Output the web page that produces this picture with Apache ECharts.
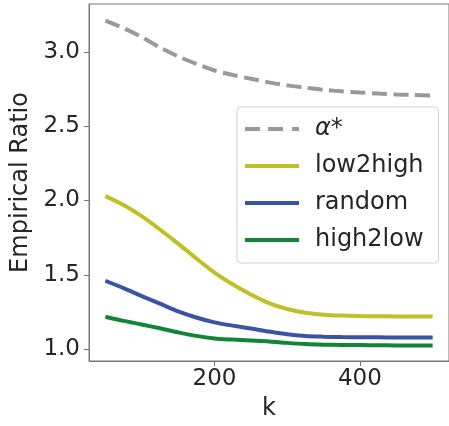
<!DOCTYPE html>
<html>
<head>
<meta charset="utf-8">
<script src="https://cdn.jsdelivr.net/npm/echarts@6/dist/echarts.min.js"></script>
<style>html,body{margin:0;padding:0;background:#fff;}#c{width:449px;height:426px;}</style>
</head>
<body>
<div id="c"></div>
<script>
const kValues = [50,75,100,125,150,175,200,225,250,275,300,325,350,375,400,425,450,475,500];
const alphaStar = [3.21,3.16,3.10,3.03,2.97,2.92,2.875,2.845,2.82,2.795,2.775,2.76,2.745,2.735,2.727,2.72,2.714,2.71,2.707];
const low2high = [2.03,1.97,1.895,1.805,1.71,1.61,1.515,1.436,1.368,1.31,1.27,1.245,1.232,1.226,1.223,1.221,1.22,1.22,1.219];
const random = [1.46,1.41,1.357,1.306,1.254,1.213,1.18,1.158,1.139,1.118,1.10,1.089,1.084,1.081,1.08,1.079,1.078,1.078,1.078];
const high2low = [1.218,1.19,1.166,1.14,1.113,1.089,1.072,1.064,1.058,1.052,1.042,1.034,1.03,1.028,1.027,1.026,1.025,1.025,1.025];
const yTicks = [1.0,1.5,2.0,2.5,3.0];
const xTicks = [200,400];
const seriesNames = ['α*','low2high','random','high2low'];

const font = 'DejaVu Sans';
const pair = arr => kValues.map((k,i)=>[k,arr[i]]);
const chart = echarts.init(document.getElementById('c'), null, {renderer:'canvas'});
function mk(name, arr, color, dashed){
  return {
    name, type:'line', data:pair(arr), symbol:'none', smooth:0.3,
    lineStyle:{color, width:4, type: dashed ? [15,6.5] : 'solid', cap:'butt'},
    itemStyle:{color}
  };
}
const solidIcon = 'path://M0,0h54v4h-54z';
const dashIcon = 'path://M0,0h15v4h-15z M23,0h15v4h-15z M47,0h7v4h-7z';
chart.setOption({
  animation:false,
  grid:{left:89, top:4, width:364, height:359, show:true, borderColor:'#777', borderWidth:1, backgroundColor:'transparent'},
  xAxis:{
    type:'value', min:27.5, max:522.5,
    name:'k', nameLocation:'middle', nameGap:36,
    nameTextStyle:{fontFamily:font, fontSize:24, color:'#262626'},
    axisLine:{show:true, lineStyle:{color:'#777', width:1}},
    axisTick:{show:true, length:5, inside:false, customValues:xTicks, lineStyle:{color:'#777'}},
    axisLabel:{customValues:xTicks, margin:7, fontFamily:font, fontSize:23, color:'#262626'},
    splitLine:{show:false}
  },
  yAxis:{
    type:'value', min:0.92, max:3.3226,
    name:'Empirical Ratio', nameLocation:'middle', nameGap:51,
    nameTextStyle:{fontFamily:font, fontSize:24, color:'#262626'},
    axisLine:{show:true, lineStyle:{color:'#777', width:1}},
    axisTick:{show:true, length:5, inside:false, customValues:yTicks, lineStyle:{color:'#777'}},
    axisLabel:{customValues:yTicks, margin:9, fontFamily:font, fontSize:23, color:'#262626', formatter:v=>v.toFixed(1)},
    splitLine:{show:false}
  },
  legend:{
    orient:'vertical', left:237, top:107,
    padding:[10,15,11,8], itemGap:13, itemWidth:54, itemHeight:20,
    backgroundColor:'rgba(255,255,255,0.85)', borderColor:'#d0d0d0', borderWidth:1, borderRadius:4,
    textStyle:{fontFamily:font, fontSize:24, color:'#262626', padding:[0,0,0,11],
      rich:{i:{fontFamily:font, fontSize:24, fontStyle:'italic', color:'#262626'}}},
    formatter:n => n==='α*' ? '{i|α}*' : n,
    data:seriesNames.map((n,i)=>({name:n, icon: i===0 ? dashIcon : solidIcon}))
  },
  series:[
    mk(seriesNames[0], alphaStar, '#999999', true),
    mk(seriesNames[1], low2high, '#bfbf2a', false),
    mk(seriesNames[2], random, '#3a53a4', false),
    mk(seriesNames[3], high2low, '#138437', false)
  ]
});
</script>
</body>
</html>
